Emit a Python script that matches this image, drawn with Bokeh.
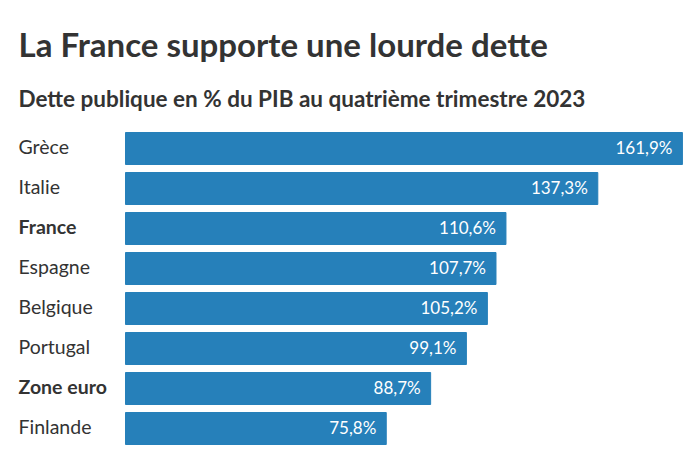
from bokeh.plotting import figure
from bokeh.models import Range1d, ColumnDataSource, Label
from bokeh.embed import file_html
from bokeh.resources import INLINE
from bokeh.core.properties import value

# ---- data ----
countries = ["Grèce", "Italie", "France", "Espagne", "Belgique", "Portugal", "Zone euro", "Finlande"]
debt = [161.9, 137.3, 110.6, 107.7, 105.2, 99.1, 88.7, 75.8]
bold = [False, False, True, False, False, False, True, False]
title_text = "La France supporte une lourde dette"
subtitle_text = "Dette publique en % du PIB au quatrième trimestre 2023"

# ---- layout constants (pixels) ----
W, H = 700, 450
left_px = 125          # where bars start
px_per_unit = 3.44     # horizontal scale
first_center = 148     # pixel centre of first bar
pitch = 40             # pixel distance between bars

FONT = "Lato"
TXT = "#333333"
BLUE = "#2680ba"

pos = list(range(len(countries)))
labels = [f"{v:.1f}".replace(".", ",") + "%" for v in debt]
src = ColumnDataSource(dict(y=pos, v=debt, name=countries, lab=labels,
                            style=["bold" if b else "normal" for b in bold]))

p = figure(width=W, height=H, output_backend="svg", toolbar_location=None,
           min_border=0, outline_line_color=None,
           x_range=Range1d(-left_px / px_per_unit, (W - left_px) / px_per_unit),
           y_range=Range1d((H - first_center) / pitch, -first_center / pitch))
p.axis.visible = False
p.grid.visible = False
p.background_fill_color = "white"
p.border_fill_color = "white"

p.hbar(y="y", left=0, right="v", height=0.8, color=BLUE, source=src)

p.text(x="v", y="y", text="lab", source=src, x_offset=-10, y_offset=-1,
       text_align="right", text_baseline="middle", text_color="white",
       text_font=value(FONT), text_font_size="17px")

p.text(x=0, y="y", text="name", source=src, x_offset=-(left_px - 18), y_offset=-2,
       text_align="left", text_baseline="middle", text_color=TXT,
       text_font=value(FONT), text_font_size="19.5px", text_font_style="style")

p.add_layout(Label(x=18, y=H - 43, x_units="screen", y_units="screen", text=title_text,
                   text_font=FONT, text_font_size="33px", text_font_style="bold",
                   text_color=TXT, text_baseline="alphabetic"))
p.add_layout(Label(x=18, y=H - 98, x_units="screen", y_units="screen", text=subtitle_text,
                   text_font=FONT, text_font_size="22.5px", text_font_style="bold",
                   text_color=TXT, text_baseline="alphabetic"))

open("out.html", "w").write(file_html(p, INLINE))
